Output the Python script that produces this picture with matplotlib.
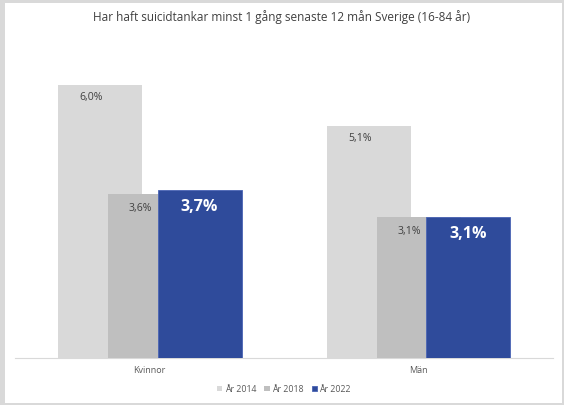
import matplotlib
matplotlib.use("Agg")
import matplotlib.pyplot as plt
from matplotlib.patches import Rectangle

categories = ["Kvinnor", "Män"]
series_names = ["År 2014", "År 2018", "År 2022"]
values_2014 = [6.0, 5.1]
values_2018 = [3.6, 3.1]
values_2022 = [3.7, 3.1]
title = "Har haft suicidtankar minst 1 gång senaste 12 mån Sverige (16-84 år)"

plt.rcParams["font.family"] = ["Open Sans", "DejaVu Sans"]
colors = ["#d9d9d9", "#bfbfbf", "#2f4b9b"]
W, H = 564, 405
fig = plt.figure(figsize=(W / 100, H / 100), dpi=100)
fig.patch.set_facecolor("#d9d9d9")
bg = Rectangle((5 / W, 2 / H), 557 / W, 400 / H, transform=fig.transFigure,
               facecolor="white", edgecolor="none", zorder=-10)
fig.patches.append(bg)

ax = fig.add_axes([15 / W, 47 / H, 538 / W, 318.5 / H])
ax.set_facecolor("none")
ax.set_xlim(-0.5, 1.5)
ax.set_ylim(0, 7)

bw = 84 / 269
step = 50 / 269
all_vals = [values_2014, values_2018, values_2022]
xs = range(len(categories))
for i, (vals, c) in enumerate(zip(all_vals, colors)):
    off = (i - 1) * step
    ax.bar([x + off for x in xs], vals, width=bw, color=c, label=series_names[i], zorder=2 + i,
           edgecolor="#4a64b5" if i == 2 else "none", linewidth=0.6 if i == 2 else 0)

def fmt(v):
    return f"{v:.1f}".replace(".", ",") + "%"

for j, x in enumerate(xs):
    ax.text(x - step - 0.03, values_2014[j] - 0.27, fmt(values_2014[j]),
            ha="center", va="center", fontsize=7.6, color="#404040", zorder=10)
    ax.text(x - 0.035, values_2018[j] - 0.32, fmt(values_2018[j]),
            ha="center", va="center", fontsize=7.6, color="#404040", zorder=10)
    ax.text(x + step, values_2022[j] - 0.38, fmt(values_2022[j]),
            ha="center", va="center", fontsize=11.5, fontweight="bold", color="white", zorder=10)

for s in ["top", "right", "left"]:
    ax.spines[s].set_visible(False)
ax.spines["bottom"].set_color("#d9d9d9")
ax.spines["bottom"].set_linewidth(0.8)
ax.set_yticks([])
ax.set_xticks(list(xs))
ax.set_xticklabels(categories, fontsize=6.5, color="#595959")
ax.tick_params(axis="x", length=0, pad=6)

fig.text(0.5, 1 - 17 / H, title, ha="center", va="center", fontsize=8.5, color="#404040")

leg = ax.legend(loc="center", bbox_to_anchor=(0.5, -31 / 318.5), ncol=3,
                frameon=False, fontsize=6.3, handlelength=0.6, handleheight=0.6,
                handletextpad=0.3, columnspacing=0.9)
for t in leg.get_texts():
    t.set_color("#595959")

fig.savefig("out.png", dpi=100)
